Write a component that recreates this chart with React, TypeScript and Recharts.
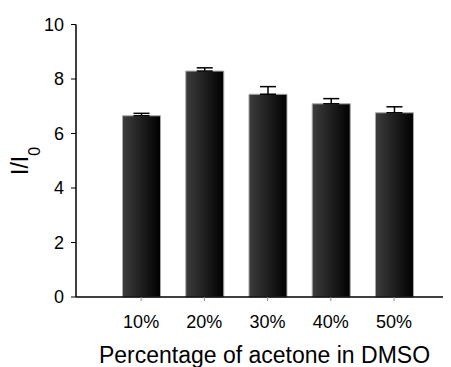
import { BarChart, Bar, XAxis, YAxis, ErrorBar, Label } from 'recharts';

const categories = ['10%', '20%', '30%', '40%', '50%'];
const positions = [1, 2, 3, 4, 5];
const intensity = [6.65, 8.29, 7.44, 7.09, 6.76];
const errorUp = [0.09, 0.12, 0.28, 0.19, 0.22];
const yTicks = [0, 2, 4, 6, 8, 10];

const data = positions.map((pos, i) => ({
  pos,
  name: categories[i],
  value: intensity[i],
  err: [0, errorUp[i]],
}));

const font = '"Liberation Sans", Arial, sans-serif';

export default function App() {
  return (
    <div style={{ width: 443, height: 359, fontFamily: font }}>
      <BarChart
        width={443}
        height={359}
        data={data}
        margin={{ top: 16.5, right: 0, bottom: 0, left: 0 }}
        style={{ overflow: 'visible' }}
      >
        <defs>
          <linearGradient id="barShade" x1="0" y1="0" x2="1" y2="0">
            <stop offset="0%" stopColor="#3d3d3d" />
            <stop offset="100%" stopColor="#000000" />
          </linearGradient>
        </defs>
        <XAxis
          type="number"
          dataKey="pos"
          domain={[-0.03, 5.9]}
          ticks={positions}
          tickFormatter={(v: number) => categories[v - 1]}
          axisLine={{ stroke: '#000', strokeWidth: 1.5 }}
          tickLine={{ stroke: '#888' }}
          tickSize={4}
          tickMargin={14}
          tick={{ fill: '#000', fontSize: 18, fontFamily: font }}
          height={70}
        >
          <Label
            content={({ viewBox }: any) => (
              <text
                x={viewBox.x + 188.5}
                y={viewBox.y + 66}
                textAnchor="middle"
                fontSize={23}
                fontFamily={font}
                fill="#000"
              >
                Percentage of acetone in DMSO
              </text>
            )}
          />
        </XAxis>
        <YAxis
          type="number"
          domain={[0, 10]}
          ticks={yTicks}
          width={68}
          axisLine={{ stroke: '#000', strokeWidth: 1.5 }}
          tickLine={{ stroke: '#000' }}
          tickSize={5}
          tickMargin={7}
          tick={{ fill: '#000', fontSize: 18, fontFamily: font }}
        >
          <Label
            content={({ viewBox }: any) => {
              const bx = viewBox.x + 20;
              const by = viewBox.y + 150.5;
              return (
                <text
                  x={bx}
                  y={by}
                  transform={`rotate(-90 ${bx} ${by})`}
                  textAnchor="start"
                  fontSize={23}
                  fontFamily={font}
                  fill="#000"
                >
                  I/I
                  <tspan fontSize={16} dy={12}>0</tspan>
                </text>
              );
            }}
          />
        </YAxis>
        <Bar
          dataKey="value"
          barSize={38}
          fill="url(#barShade)"
          stroke="#a8a8a8"
          strokeWidth={1}
          isAnimationActive={false}
        >
          <ErrorBar
            dataKey="err"
            width={8}
            stroke="#000"
            strokeWidth={1.5}
            direction="y"
            isAnimationActive={false}
          />
        </Bar>
      </BarChart>
    </div>
  );
}
